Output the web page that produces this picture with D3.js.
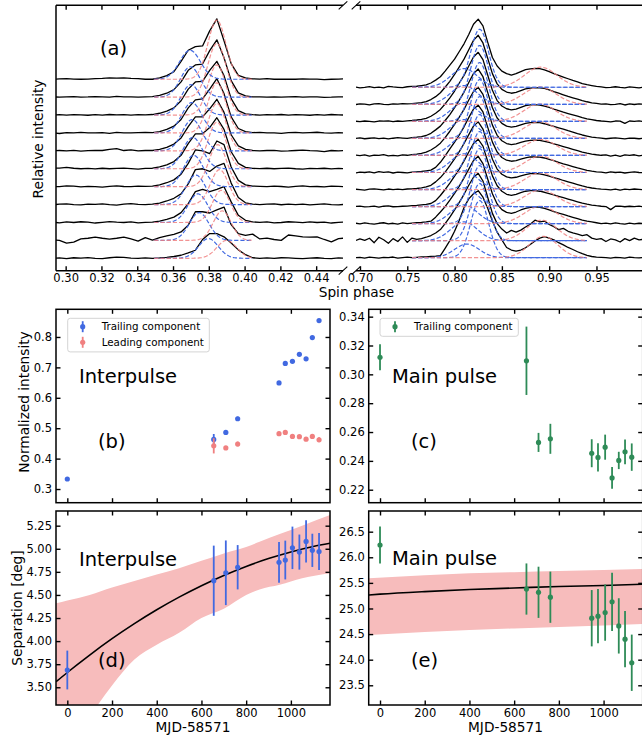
<!DOCTYPE html>
<html><head><meta charset="utf-8">
<script src="https://cdn.jsdelivr.net/npm/d3@7"></script>
<style>body{margin:0;background:#fff}svg text{font-family:"DejaVu Sans",sans-serif;fill:#000}</style>
</head><body><svg id="c" width="642" height="736"></svg>
<script>
// ---------------- DATA ----------------
const phaseIP = [0.2925,0.2965,0.3005,0.3045,0.3085,0.3125,0.3165,0.3205,0.3245,0.3285,0.3325,0.3365,0.3405,0.3445,0.3485,0.3525,0.3565,0.3605,0.3645,0.3685,0.3725,0.3765,0.3805,0.3845,0.3885,0.3925,0.3965,0.4005,0.4045,0.4085,0.4125,0.4165,0.4205,0.4245,0.4285,0.4325,0.4365,0.4405,0.4445,0.4485,0.4525,0.4565];
const phaseMP = [0.695,0.700,0.705,0.710,0.715,0.720,0.725,0.730,0.735,0.740,0.745,0.750,0.755,0.760,0.765,0.770,0.775,0.780,0.785,0.790,0.795,0.800,0.805,0.810,0.815,0.820,0.825,0.830,0.835,0.840,0.845,0.850,0.855,0.860,0.865,0.870,0.875,0.880,0.885,0.890,0.895,0.900,0.905,0.910,0.915,0.920,0.925,0.930,0.935,0.940,0.945,0.950,0.955,0.960,0.965,0.970,0.975,0.980,0.985,0.990,0.995,1.000];

// interpulse profiles, bottom (first epoch) to top (last epoch)
const ipProfiles = [
[0.0,0.02,-0.02,0.03,0.01,0.04,0.0,-0.02,0.03,0.06,0.05,0.01,-0.01,0.02, 0.0,0.02,0.05,0.1,0.17,0.3,0.45,1.05,1.38,1.38,1.2,0.85,0.47,0.2,0.03, 0.0,0.02,-0.01,0.03,0.02,0.0,-0.02,0.01,0.03,0.0,-0.02,0.02,0.01],
[0.03,0.0,-0.15,-0.1,0.08,0.12,0.18,0.12,0.07,0.12,0.18,0.08,-0.04,0.15, 0.02,0.15,0.25,0.33,0.47,0.85,1.6,1.6,1.53,1.7,1.86,0.88,0.38,0.28,0.35, 0.08,0.13,0.05,0.0,0.3,0.25,0.2,0.18,0.2,0.05,-0.08,0.1,0.13],
[0.02,-0.02,0.03,0.0,0.04,0.02,-0.03,0.01,0.05,0.02,0.0,0.03,-0.02,0.01, 0.02,0.08,0.18,0.3,0.55,1.05,1.72,1.85,1.72,1.85,2.0,1.15,0.4,0.12,0.03, 0.01,0.03,-0.02,0.0,0.04,0.02,-0.01,0.03,0.0,0.02,-0.03,0.01,0.02],
[-0.01,0.02,0.04,0.0,-0.02,0.03,0.01,0.04,0.0,-0.03,0.02,0.05,0.01,0.0, 0.02,0.08,0.2,0.35,0.6,1.15,1.95,2.0,1.85,2.15,2.3,1.2,0.4,0.1,0.03, 0.0,0.02,0.04,-0.01,0.02,0.0,0.03,-0.02,0.01,0.04,0.0,-0.02,0.02],
[0.01,0.0,0.05,0.03,-0.01,0.02,0.0,-0.03,0.02,0.04,0.01,0.0,0.03,0.02, 0.03,0.1,0.22,0.38,0.7,1.3,2.05,2.0,1.85,2.55,2.35,1.1,0.35,0.1,0.03, 0.02,0.0,0.03,0.01,-0.02,0.02,0.04,0.0,0.01,-0.01,0.03,0.02,0.0],
[0.02,0.04,0.08,0.03,0.0,0.02,-0.01,0.03,0.0,0.02,0.04,0.01,-0.02,0.02, 0.03,0.1,0.22,0.4,0.75,1.4,1.95,1.95,2.3,2.85,2.2,0.95,0.3,0.08,0.02, 0.01,0.03,0.0,0.02,0.04,0.0,-0.02,0.02,0.01,0.03,-0.01,0.02,0.0],
[0.0,0.02,0.0,0.03,-0.02,0.01,0.03,0.02,0.08,0.13,0.02,0.05,0.0,0.02, 0.02,0.08,0.2,0.38,0.72,1.35,1.9,1.9,2.35,2.88,2.15,0.9,0.28,0.08,0.02, 0.0,0.02,0.03,-0.01,0.0,0.02,0.04,0.01,0.0,-0.04,0.02,0.0,0.03],
[0.02,-0.03,0.02,0.0,0.03,0.01,0.0,0.02,-0.02,0.03,0.01,0.0,0.02,0.03, 0.02,0.08,0.2,0.38,0.75,1.4,1.85,1.9,2.45,3.03,2.2,0.9,0.25,0.07,0.02, 0.03,0.0,0.01,-0.02,0.02,0.03,0.0,0.02,0.04,0.01,-0.01,0.02,0.0],
[0.01,0.02,0.0,0.02,0.01,-0.01,0.02,0.0,0.03,0.01,0.02,0.0,0.02,0.01, 0.03,0.1,0.22,0.4,0.8,1.45,1.85,1.88,2.5,3.0,2.2,0.92,0.25,0.07,0.02, 0.0,0.02,0.01,0.03,0.0,0.02,0.01,-0.01,0.02,0.0,0.03,0.01,0.0],
[0.02,0.0,0.02,0.03,0.0,0.01,0.03,0.02,0.0,0.04,0.02,0.01,0.0,0.02, 0.03,0.1,0.22,0.42,0.85,1.5,1.8,1.85,2.6,3.2,2.2,0.92,0.24,0.07,0.02, 0.02,0.0,0.01,0.0,0.02,0.03,0.0,0.01,0.02,-0.01,0.0,0.02,0.01],
[0.0,0.02,0.04,0.01,0.0,0.01,0.03,0.05,0.08,0.06,0.08,0.05,0.04,0.0, 0.0,0.08,0.2,0.42,1.0,1.62,1.82,1.86,2.7,3.37,2.15,0.87,0.22,0.08,0.02, 0.01,0.03,0.0,0.0,0.01,0.0,0.02,0.01,0.01,-0.02,0.0,0.01,0.02]
];

// main pulse profiles, bottom to top
const mpProfiles = [
[0.0,0.02,-0.02,0.03,0.01,-0.03,0.02,0.0,0.04,-0.02,0.01,0.03, 0.0,0.02,0.04,0.05,0.07,0.09,0.12,0.55,1.0,1.55,2.2,2.95,3.45,3.75,3.93,3.55,2.9,2.15,1.5,1.05,0.6,0.45,0.38,0.45,0.58,0.78,0.98,1.15,1.23,1.15,1.05,0.88,0.75,0.6,0.48,0.35,0.24,0.14,0.07,0.03, 0.02,0.0,-0.03,0.02,0.01,-0.02,0.03,0.0,-0.01,0.02],
[0.0,0.1,0.02,0.14,-0.12,0.2,0.05,-0.15,0.12,-0.05,0.22,-0.1, 0.15,0.08,0.12,0.2,0.3,0.45,0.65,1.0,1.38,1.8,2.25,2.72,3.25,3.72,3.95,3.5,2.55,1.6,1.0,0.68,0.45,0.6,0.5,0.62,0.8,0.96,1.2,1.1,1.15,0.95,0.82,0.65,0.72,0.55,0.45,0.38,0.3,0.35,0.15,0.08, 0.12,-0.05,0.1,0.05,-0.08,0.12,0.0,0.15,0.05,0.08],
[0.03,-0.02,0.04,0.0,-0.03,0.02,0.05,-0.01,0.02,-0.03,0.04,0.0, 0.03,0.05,0.07,0.1,0.14,0.38,0.68,1.0,1.38,1.78,2.2,2.68,3.2,3.7,3.95,3.52,2.62,1.75,1.15,0.82,0.66,0.6,0.68,0.8,0.9,0.96,0.98,0.96,0.9,0.8,0.7,0.62,0.54,0.45,0.37,0.29,0.21,0.15,0.1,0.05, 0.0,0.03,-0.02,0.04,0.0,-0.03,0.03,-0.01,0.02,0.0],
[0.01,0.03,-0.02,0.0,0.03,-0.03,0.02,0.04,-0.01,0.0,0.02,0.03, 0.05,0.07,0.1,0.13,0.18,0.35,0.65,1.0,1.38,1.78,2.2,2.68,3.2,3.7,3.95,3.55,2.66,1.8,1.22,0.9,0.72,0.66,0.72,0.82,0.9,0.94,0.94,0.9,0.84,0.76,0.68,0.6,0.52,0.44,0.36,0.28,0.2,0.14,0.09,0.05, 0.02,0.0,-0.18,0.02,0.03,-0.01,0.02,0.0,0.03,-0.02],
[0.02,0.0,-0.03,0.02,0.04,0.01,-0.02,0.03,0.0,0.02,-0.01,0.03, 0.04,0.06,0.1,0.15,0.25,0.45,0.7,1.02,1.4,1.8,2.22,2.7,3.22,3.72,3.97,3.55,2.65,1.78,1.2,0.9,0.74,0.68,0.72,0.8,0.88,0.93,0.94,0.92,0.86,0.78,0.7,0.62,0.53,0.45,0.37,0.29,0.21,0.14,0.09,0.05, 0.02,0.01,-0.02,0.03,-0.03,0.02,0.0,0.03,0.01,-0.02],
[-0.03,0.02,0.0,0.04,-0.02,0.05,0.01,0.03,-0.03,0.02,0.0,-0.02, 0.02,0.04,0.06,0.1,0.14,0.3,0.6,0.98,1.38,1.78,2.2,2.68,3.22,3.72,3.95,3.55,2.66,1.78,1.2,0.88,0.72,0.66,0.7,0.78,0.86,0.91,0.92,0.9,0.85,0.77,0.69,0.6,0.51,0.43,0.35,0.27,0.2,0.13,0.08,0.04, 0.02,-0.02,0.03,0.0,0.02,-0.03,0.01,0.04,0.0,-0.02],
[0.02,-0.01,0.03,-0.04,0.02,0.0,0.05,-0.02,0.01,-0.02,0.03,0.01, 0.05,0.08,0.12,0.19,0.32,0.5,0.72,1.05,1.42,1.82,2.25,2.7,3.25,3.75,4.0,3.58,2.68,1.78,1.18,0.86,0.7,0.64,0.68,0.76,0.84,0.89,0.9,0.88,0.83,0.76,0.68,0.6,0.52,0.44,0.36,0.28,0.2,0.13,0.08,0.04, 0.01,0.03,-0.04,0.02,-0.05,0.03,0.0,0.04,-0.02,0.01],
[0.0,0.03,-0.02,0.01,0.03,-0.01,0.02,-0.03,0.01,0.04,0.02,0.0, 0.04,0.07,0.11,0.17,0.3,0.5,0.72,1.05,1.4,1.8,2.25,2.72,3.28,3.8,4.07,3.62,2.7,1.8,1.2,0.88,0.72,0.66,0.7,0.8,0.88,0.93,0.94,0.92,0.86,0.78,0.7,0.62,0.54,0.45,0.37,0.28,0.2,0.14,0.08,0.04, 0.02,-0.02,0.01,0.03,0.0,-0.03,0.02,0.01,-0.02,0.02],
[0.01,-0.02,0.02,0.0,-0.03,0.02,0.01,0.03,-0.01,0.02,0.0,0.03, 0.05,0.08,0.12,0.18,0.3,0.48,0.7,1.02,1.38,1.78,2.25,2.7,3.25,3.78,4.05,3.62,2.72,1.82,1.22,0.9,0.74,0.68,0.72,0.82,0.92,0.97,0.98,0.96,0.9,0.82,0.72,0.63,0.54,0.46,0.38,0.3,0.22,0.15,0.1,0.05, 0.02,0.0,-0.03,0.02,0.01,-0.12,0.02,0.0,0.03,-0.02],
[-0.02,0.03,0.01,-0.03,0.02,0.04,0.0,-0.02,0.03,0.01,0.04,0.02, 0.04,0.07,0.1,0.16,0.28,0.45,0.68,1.0,1.35,1.75,2.2,2.65,3.2,3.75,4.05,3.6,2.7,1.8,1.2,0.88,0.72,0.65,0.7,0.8,0.9,0.95,0.98,0.97,0.93,0.85,0.75,0.66,0.56,0.46,0.38,0.3,0.22,0.15,0.09,0.05, 0.01,0.03,-0.02,0.0,0.04,-0.04,0.02,-0.01,0.03,0.0],
[0.02,-0.03,0.0,0.04,-0.02,0.01,-0.04,0.05,0.02,0.0,-0.02,0.03, 0.05,0.06,0.10,0.14,0.25,0.42,0.62,0.95,1.3,1.65,2.1,2.55,3.1,3.7,4.0,3.6,2.65,1.75,1.25,0.95,0.8,0.72,0.8,0.92,1.03,1.08,1.11,1.1,1.02,0.92,0.8,0.7,0.6,0.5,0.4,0.32,0.22,0.15,0.1,0.05, 0.02,-0.02,0.0,0.03,-0.01,-0.03,0.02,0.0,-0.04,0.01]
];

// fitted gaussian components (centre, amplitude, width) per profile
const ipLeadC = [0.3798,0.3746,0.3739,0.3727,0.3715,0.3710,0.3707,0.3705,0.3700,0.3697,0.3695];
const ipLeadA = [1.1,1.55,1.6,1.65,1.75,1.75,1.75,1.7,1.7,1.7,1.62];
const ipLeadW = [0.0055,0.0055,0.0055,0.0055,0.0055,0.0055,0.0055,0.0055,0.0055,0.0055,0.0058];
const ipTrailC = [0.3900,0.3875,0.3870,0.3860,0.3850,0.3845,0.3845,0.3845,0.3845,0.3845,0.3845];
const ipTrailA = [1.0,1.65,1.8,1.95,2.35,2.6,2.65,2.8,2.8,3.0,3.3];
const ipTrailW = [0.0055,0.005,0.005,0.005,0.005,0.005,0.005,0.005,0.005,0.005,0.005];
const mpMainC = [0.8265,0.8265,0.8265,0.8265,0.8265,0.8265,0.8265,0.8265,0.8265,0.8265,0.8265];
const mpMainA = [3.35,3.35,3.4,3.4,3.4,3.4,3.45,3.45,3.45,3.45,3.4];
const mpMainW = [0.0095,0.0095,0.0095,0.0095,0.0095,0.0095,0.0095,0.0095,0.0095,0.0095,0.0095];
const mpLeadC = [0.813,0.810,0.810,0.810,0.810,0.810,0.810,0.810,0.810,0.810,0.810];
const mpLeadA = [0.8,1.1,1.1,1.1,1.1,1.1,1.1,1.1,1.1,1.1,1.1];
const mpLeadW = [0.013,0.014,0.014,0.014,0.014,0.014,0.014,0.014,0.014,0.014,0.014];
const mpTrailC = [0.894,0.892,0.891,0.891,0.891,0.891,0.891,0.890,0.890,0.890,0.891];
const mpTrailA = [1.25,1.2,1.02,0.98,0.98,0.96,0.94,0.98,1.02,1.02,1.18];
const mpTrailW = [0.015,0.016,0.017,0.017,0.017,0.017,0.017,0.017,0.017,0.017,0.017];
const ipFitWindow = [0.3495,0.4040];
const mpFitWindow = [0.7550,0.9400];

// panel (b)-(e) data
const epochs = [0,655,709,762,947,975,1007,1038,1068,1096,1126];
const ipTrailInt = [0.333,0.463,0.486,0.531,0.649,0.713,0.720,0.743,0.728,0.798,0.854];
const ipTrailIntErr = [0.004,0.018,0.006,0.007,0.006,0.005,0.005,0.005,0.005,0.005,0.005];
const leadEpochs = [655,709,762,947,975,1007,1038,1068,1096,1126];
const ipLeadInt = [0.442,0.435,0.448,0.482,0.486,0.473,0.472,0.464,0.473,0.462];
const ipLeadIntErr = [0.025,0.006,0.008,0.006,0.006,0.006,0.006,0.006,0.006,0.008];
const mpTrailInt = [0.3118,0.3094,0.2528,0.2553,0.2453,0.2424,0.2495,0.2282,0.2403,0.2463,0.2426];
const mpTrailIntErr = [0.009,0.0237,0.0066,0.0104,0.0097,0.0098,0.0087,0.0075,0.006,0.0086,0.0095];
const ipSep = [3.687,4.654,4.74,4.80,4.853,4.878,5.01,4.964,5.08,4.983,4.97];
const ipSepErr = [0.21,0.38,0.35,0.24,0.22,0.21,0.23,0.19,0.23,0.18,0.2];
const mpSep = [26.24,25.38,25.316,25.22,24.81,24.85,24.92,25.13,24.66,24.40,23.94];
const mpSepErr = [0.36,0.5,0.5,0.5,0.55,0.53,0.55,0.57,0.54,0.55,0.55];
const ipFitX = [-50,0,100,200,300,400,500,600,700,800,900,1000,1100,1175];
const ipFitY = [3.56,3.66,3.849,4.026,4.189,4.339,4.476,4.60,4.711,4.809,4.894,4.966,5.025,5.06];
const ipBandX = [-50,0,100,200,300,400,500,600,700,800,860,950,1050,1175];
const ipBandHi = [4.41,4.44,4.50,4.58,4.65,4.72,4.79,4.87,4.95,5.02,5.076,5.16,5.25,5.365];
const ipBandLo = [2.55,2.8,3.18,3.52,3.8,3.96,4.09,4.25,4.35,4.5,4.56,4.61,4.68,4.734];
const mpFitX = [-50,0,200,400,600,800,1000,1175];
const mpFitY = [25.264,25.28,25.33,25.37,25.40,25.43,25.45,25.475];
const mpBandX = [-50,200,400,600,800,1000,1175];
const mpBandHi = [25.59,25.65,25.69,25.71,25.73,25.75,25.77];
const mpBandLo = [24.48,24.54,24.58,24.61,24.64,24.67,24.70];

const ticksIPphase = [0.30,0.32,0.34,0.36,0.38,0.40,0.42,0.44];
const ticksMPphase = [0.70,0.75,0.80,0.85,0.90,0.95];
const ticksMJD = [0,200,400,600,800,1000];
const ticksB = [0.3,0.4,0.5,0.6,0.7,0.8];
const ticksC = [0.22,0.24,0.26,0.28,0.30,0.32,0.34];
const ticksD = [3.50,3.75,4.00,4.25,4.50,4.75,5.00,5.25];
const ticksE = [23.5,24.0,24.5,25.0,25.5,26.0,26.5];

// ---------------- STYLE ----------------
const BLUE = "#4169e1", RED = "#f08080", GREEN = "#2e8b57", BAND = "#f7bcbc";
const TICKFS = "11.5px", LABFS = "13.7px", PANFS = "19.5px";
const svg = d3.select("#c");
const defs = svg.append("defs");
function clip(id,x,y,w,h){defs.append("clipPath").attr("id",id).append("rect").attr("x",x).attr("y",y).attr("width",w).attr("height",h);}

function styleAxis(g){
  g.select(".domain").remove();
  g.selectAll(".tick line").attr("stroke","#000").attr("stroke-width",1.4);
  g.selectAll(".tick text").attr("font-size",TICKFS).attr("font-family",'"DejaVu Sans",sans-serif').attr("fill","#000");
}
function gauss(a,c,s){return x=>a*Math.exp(-(x-c)*(x-c)/(2*s*s));}

// ---------------- PANEL (a) ----------------
const aT=5.3, aB=270.7;
const xAL = d3.scaleLinear().domain([0.2946,0.4550]).range([56,343]);
const xAR = d3.scaleLinear().domain([0.6958,0.6958+287/946]).range([356,643]);
const yAL = d3.scaleLinear().domain([-0.693,14.13]).range([aB,aT]);
const yAR = d3.scaleLinear().domain([-0.763,14.81]).range([aB,aT]);
clip("cAL",56,aT,287,aB-aT); clip("cAR",356,aT,287,aB-aT);

function drawProfiles(clipId, phases, profiles, comps, xs, ys, win){
  const g = svg.append("g").attr("clip-path",`url(#${clipId})`);
  const fine = d3.range(win[0], win[1]+1e-9, 0.0005);
  profiles.forEach((vals,i)=>{
    g.append("path").attr("fill","none").attr("stroke","#000").attr("stroke-width",1.3)
      .attr("stroke-linejoin","round")
      .attr("d", d3.line().x((v,k)=>xs(phases[k])).y(v=>ys(v+i))(vals));
    comps.forEach(cp=>{
      const f = gauss(cp.a[i], cp.c[i], cp.w[i]);
      g.append("path").attr("fill","none").attr("stroke",cp.color).attr("stroke-width",1.2)
        .attr("stroke-dasharray","4.2,2").attr("opacity",cp.op)
        .attr("d", d3.line().x(p=>xs(p)).y(p=>ys(f(p)+i))(fine));
    });
  });
}
drawProfiles("cAL", phaseIP, ipProfiles,
  [{c:ipLeadC,a:ipLeadA,w:ipLeadW,color:BLUE,op:1},{c:ipTrailC,a:ipTrailA,w:ipTrailW,color:RED,op:0.85}],
  xAL, yAL, ipFitWindow);
drawProfiles("cAR", phaseMP, mpProfiles,
  [{c:mpLeadC,a:mpLeadA,w:mpLeadW,color:BLUE,op:1},{c:mpMainC,a:mpMainA,w:mpMainW,color:BLUE,op:1},{c:mpTrailC,a:mpTrailA,w:mpTrailW,color:RED,op:0.85}],
  xAR, yAR, mpFitWindow);

// spines (a)
const sp = svg.append("g").attr("stroke","#000").attr("stroke-width",1.5).attr("fill","none");
sp.append("line").attr("x1",56).attr("x2",56).attr("y1",aT).attr("y2",aB);
sp.append("line").attr("x1",56).attr("x2",343).attr("y1",aT).attr("y2",aT);
sp.append("line").attr("x1",56).attr("x2",343).attr("y1",aB).attr("y2",aB);
sp.append("line").attr("x1",356).attr("x2",643).attr("y1",aT).attr("y2",aT);
sp.append("line").attr("x1",356).attr("x2",643).attr("y1",aB).attr("y2",aB);
[343,356].forEach(xx=>[aT,aB].forEach(yy=>{
  sp.append("line").attr("stroke-width",1.1).attr("x1",xx-4.3).attr("y1",yy+4).attr("x2",xx+4.3).attr("y2",yy-4);
}));
[[xAL,ticksIPphase],[xAR,ticksMPphase]].forEach(([xs,tv])=>{
  const gb = svg.append("g").attr("transform",`translate(0,${aB})`)
    .call(d3.axisBottom(xs).tickValues(tv).tickSize(-4.5).tickPadding(3.6).tickFormat(d3.format(".2f")));
  styleAxis(gb);
  const gt = svg.append("g").attr("transform",`translate(0,${aT})`)
    .call(d3.axisTop(xs).tickValues(tv).tickSize(-4.5).tickFormat(""));
  styleAxis(gt);
});
svg.append("text").attr("transform","translate(43.3,139) rotate(-90)").attr("text-anchor","middle")
  .attr("font-size",LABFS).text("Relative intensity");
svg.append("text").attr("x",356.5).attr("y",297.3).attr("text-anchor","middle").attr("font-size",LABFS).text("Spin phase");
svg.append("text").attr("x",100).attr("y",54.5).attr("font-size",PANFS).text("(a)");

// ---------------- PANELS (b)-(e) ----------------
const xB = d3.scaleLinear().domain([-50.6,1175]).range([56,330]);
const xC = d3.scaleLinear().domain([-50.6,1175]).range([368.7,642.7]);
const yB = d3.scaleLinear().domain([0.255,0.891]).range([502.7,309.3]);
const yC = d3.scaleLinear().domain([0.211,0.3451]).range([502.7,309.3]);
const yD = d3.scaleLinear().domain([3.308,5.409]).range([705,511]);
const yE = d3.scaleLinear().domain([23.115,26.904]).range([705,511]);

function frame(x,y,yt,yfmt,xlabels){
  const [L,R]=x.range(), [B,T]=y.range();
  const gb = svg.append("g").attr("transform",`translate(0,${B})`)
    .call(d3.axisBottom(x).tickValues(ticksMJD).tickSize(-4.5).tickPadding(3.6).tickFormat(xlabels?d3.format("d"):""));
  styleAxis(gb);
  styleAxis(svg.append("g").attr("transform",`translate(0,${T})`).call(d3.axisTop(x).tickValues(ticksMJD).tickSize(-4.5).tickFormat("")));
  styleAxis(svg.append("g").attr("transform",`translate(${L},0)`).call(d3.axisLeft(y).tickValues(yt).tickSize(-4.5).tickPadding(4).tickFormat(yfmt)));
  styleAxis(svg.append("g").attr("transform",`translate(${R},0)`).call(d3.axisRight(y).tickValues(yt).tickSize(-4.5).tickFormat("")));
  svg.append("rect").attr("x",L).attr("y",T).attr("width",R-L).attr("height",B-T)
    .attr("fill","none").attr("stroke","#000").attr("stroke-width",1.5);
}
function errPoints(x,y,xs,vs,es,color){
  const g = svg.append("g");
  xs.forEach((d,i)=>{
    g.append("line").attr("x1",x(d)).attr("x2",x(d)).attr("y1",y(vs[i]-es[i])).attr("y2",y(vs[i]+es[i]))
      .attr("stroke",color).attr("stroke-width",1.8);
    g.append("circle").attr("cx",x(d)).attr("cy",y(vs[i])).attr("r",2.6).attr("fill",color);
  });
}
function band(x,y,bx,hi,lo,id){
  const [L,R]=x.range(), [B,T]=y.range();
  clip(id,L,T,R-L,B-T);
  svg.append("path").attr("clip-path",`url(#${id})`).attr("fill",BAND).attr("stroke","none")
    .attr("d", d3.area().x((d,i)=>x(bx[i])).y0((d,i)=>y(lo[i])).y1((d,i)=>y(hi[i])).curve(d3.curveMonotoneX)(bx));
}
function fitLine(x,y,fx,fy,id){
  svg.append("path").attr("clip-path",`url(#${id})`).attr("fill","none").attr("stroke","#000").attr("stroke-width",1.6)
    .attr("d", d3.line().x((d,i)=>x(fx[i])).y((d,i)=>y(fy[i])).curve(d3.curveMonotoneX)(fx));
}

// (b)
errPoints(xB,yB,epochs,ipTrailInt,ipTrailIntErr,BLUE);
errPoints(xB,yB,leadEpochs,ipLeadInt,ipLeadIntErr,RED);
frame(xB,yB,ticksB,d3.format(".1f"),false);
// (c)
errPoints(xC,yC,epochs,mpTrailInt,mpTrailIntErr,GREEN);
frame(xC,yC,ticksC,d3.format(".2f"),false);
// (d)
band(xB,yD,ipBandX,ipBandHi,ipBandLo,"cD");
fitLine(xB,yD,ipFitX,ipFitY,"cD");
errPoints(xB,yD,epochs,ipSep,ipSepErr,BLUE);
frame(xB,yD,ticksD,d3.format(".2f"),true);
// (e)
band(xC,yE,mpBandX,mpBandHi,mpBandLo,"cE");
fitLine(xC,yE,mpFitX,mpFitY,"cE");
errPoints(xC,yE,epochs,mpSep,mpSepErr,GREEN);
frame(xC,yE,ticksE,d3.format(".1f"),true);

// legends
function legend(x,y,w,entries){
  svg.append("rect").attr("x",x).attr("y",y).attr("width",w).attr("height",entries.length*15.6+2.4)
    .attr("rx",2.5).attr("fill","#fff").attr("fill-opacity",0.8).attr("stroke","#d4d4d4").attr("stroke-width",1);
  entries.forEach((e,i)=>{
    const cy = y+8.4+i*15.6, mx = x+15;
    svg.append("line").attr("x1",mx).attr("x2",mx).attr("y1",cy-5.5).attr("y2",cy+5.5).attr("stroke",e.color).attr("stroke-width",1.8);
    svg.append("circle").attr("cx",mx).attr("cy",cy).attr("r",2.6).attr("fill",e.color);
    svg.append("text").attr("x",x+34).attr("y",cy+3.7).attr("font-size","10.3px").text(e.label);
  });
}
legend(67.7,318.3,141.6,[{color:BLUE,label:"Trailing component"},{color:RED,label:"Leading component"}]);
legend(380,318.3,138.3,[{color:GREEN,label:"Trailing component"}]);

// panel texts
const txt=(x,y,s,t)=>svg.append("text").attr("x",x).attr("y",y).attr("font-size",s).text(t);
txt(79,382.5,PANFS,"Interpulse"); txt(98,447.5,PANFS,"(b)");
txt(392,383,PANFS,"Main pulse"); txt(411,447.5,PANFS,"(c)");
txt(79,566,PANFS,"Interpulse"); txt(98,666.5,PANFS,"(d)");
txt(392,565.2,PANFS,"Main pulse"); txt(411,667,PANFS,"(e)");

// axis labels
svg.append("text").attr("transform","translate(29.3,402) rotate(-90)").attr("text-anchor","middle").attr("font-size",LABFS).text("Normalized intensity");
svg.append("text").attr("transform","translate(21.5,608) rotate(-90)").attr("text-anchor","middle").attr("font-size",LABFS).text("Separation [deg]");
svg.append("text").attr("x",193).attr("y",731.7).attr("text-anchor","middle").attr("font-size",LABFS).text("MJD-58571");
svg.append("text").attr("x",505.5).attr("y",731.7).attr("text-anchor","middle").attr("font-size",LABFS).text("MJD-58571");
</script></body></html>
